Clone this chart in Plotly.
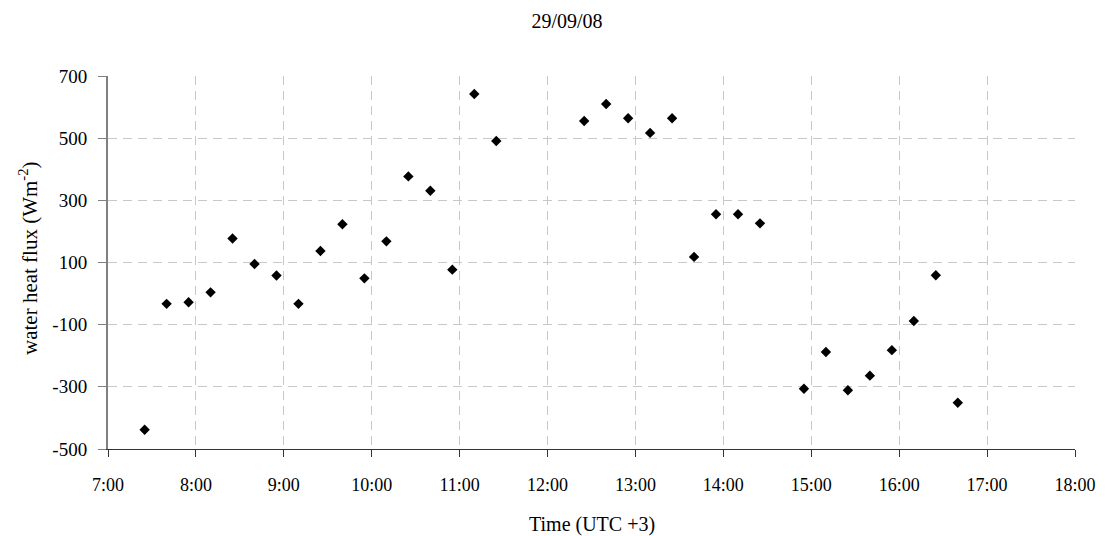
import pandas as pd
import plotly.graph_objects as go

# Measurement times (local, UTC+3) on 29/09/08 and the water heat flux at each
times = ["7:25", "7:40", "7:55", "8:10", "8:25", "8:40", "8:55", "9:10", "9:25",
         "9:40", "9:55", "10:10", "10:25", "10:40", "10:55", "11:10", "11:25",
         "12:25", "12:40", "12:55", "13:10", "13:25", "13:40", "13:55", "14:10",
         "14:25", "14:55", "15:10", "15:25", "15:40", "15:55", "16:10", "16:25",
         "16:40"]
flux = [-438, -33, -28, 4, 177, 95, 58, -33, 137,
        223, 49, 168, 377, 331, 77, 642, 491,
        555, 610, 564, 517, 564, 118, 255, 255,
        226, -306, -188, -311, -264, -182, -88, 59,
        -351]

day = "2008-09-29"
x_times = pd.to_datetime([f"{day} {t}" for t in times])

y_ticks = [-500, -300, -100, 100, 300, 500, 700]

FONT = "Liberation Serif, Times New Roman, serif"
GRID = "#c8c8c8"

fig = go.Figure(
    go.Scatter(
        x=x_times,
        y=flux,
        mode="markers",
        marker=dict(symbol="diamond", size=8, color="black"),
        showlegend=False,
    )
)

W, H = 1107, 536
L, R, T, B = 108, 32, 76, 87
plot_w, plot_h = W - L - R, H - T - B

fig.update_layout(
    width=W,
    height=H,
    margin=dict(l=L, r=R, t=T, b=B),
    paper_bgcolor="white",
    plot_bgcolor="white",
    font=dict(family=FONT, size=18, color="black"),
    title=dict(
        text="29/09/08",
        x=567 / W,
        xanchor="center",
        y=1 - 21 / H,
        yanchor="middle",
        font=dict(family=FONT, size=20, color="black"),
    ),
    annotations=[
        dict(
            text="Time (UTC +3)",
            xref="paper", yref="paper",
            x=0.5, y=-(524 - (T + plot_h)) / plot_h,
            xanchor="center", yanchor="middle",
            showarrow=False,
            font=dict(family=FONT, size=20, color="black"),
        ),
        dict(
            text="water heat flux (Wm<sup>-2</sup>)",
            xref="paper", yref="paper",
            x=-(L - 28) / plot_w, y=(T + plot_h - 258) / plot_h,
            xanchor="center", yanchor="middle",
            textangle=-90,
            showarrow=False,
            font=dict(family=FONT, size=21, color="black"),
        ),
    ],
)

fig.update_xaxes(
    range=[f"{day} 07:00", f"{day} 18:00"],
    type="date",
    tick0=f"{day} 07:00",
    dtick=3600000,
    tickformat="%-H:%M",
    showline=True,
    linecolor="#333333",
    linewidth=1,
    ticks="outside",
    ticklen=7,
    tickcolor="#333333",
    ticklabelstandoff=12,
    showgrid=True,
    gridcolor=GRID,
    gridwidth=1,
    griddash="9px,6px",
    zeroline=False,
    tickfont=dict(family=FONT, size=18, color="black"),
)

fig.update_yaxes(
    range=[-500, 700],
    tickvals=y_ticks,
    ticktext=[str(v) for v in y_ticks],
    showline=True,
    linecolor="#808080",
    linewidth=2,
    ticks="outside",
    ticklen=8,
    tickcolor="#808080",
    ticklabelstandoff=7,
    showgrid=True,
    gridcolor=GRID,
    gridwidth=1,
    griddash="9px,6px",
    zeroline=False,
    tickfont=dict(family=FONT, size=19, color="black"),
)

fig.write_html("out.html")
